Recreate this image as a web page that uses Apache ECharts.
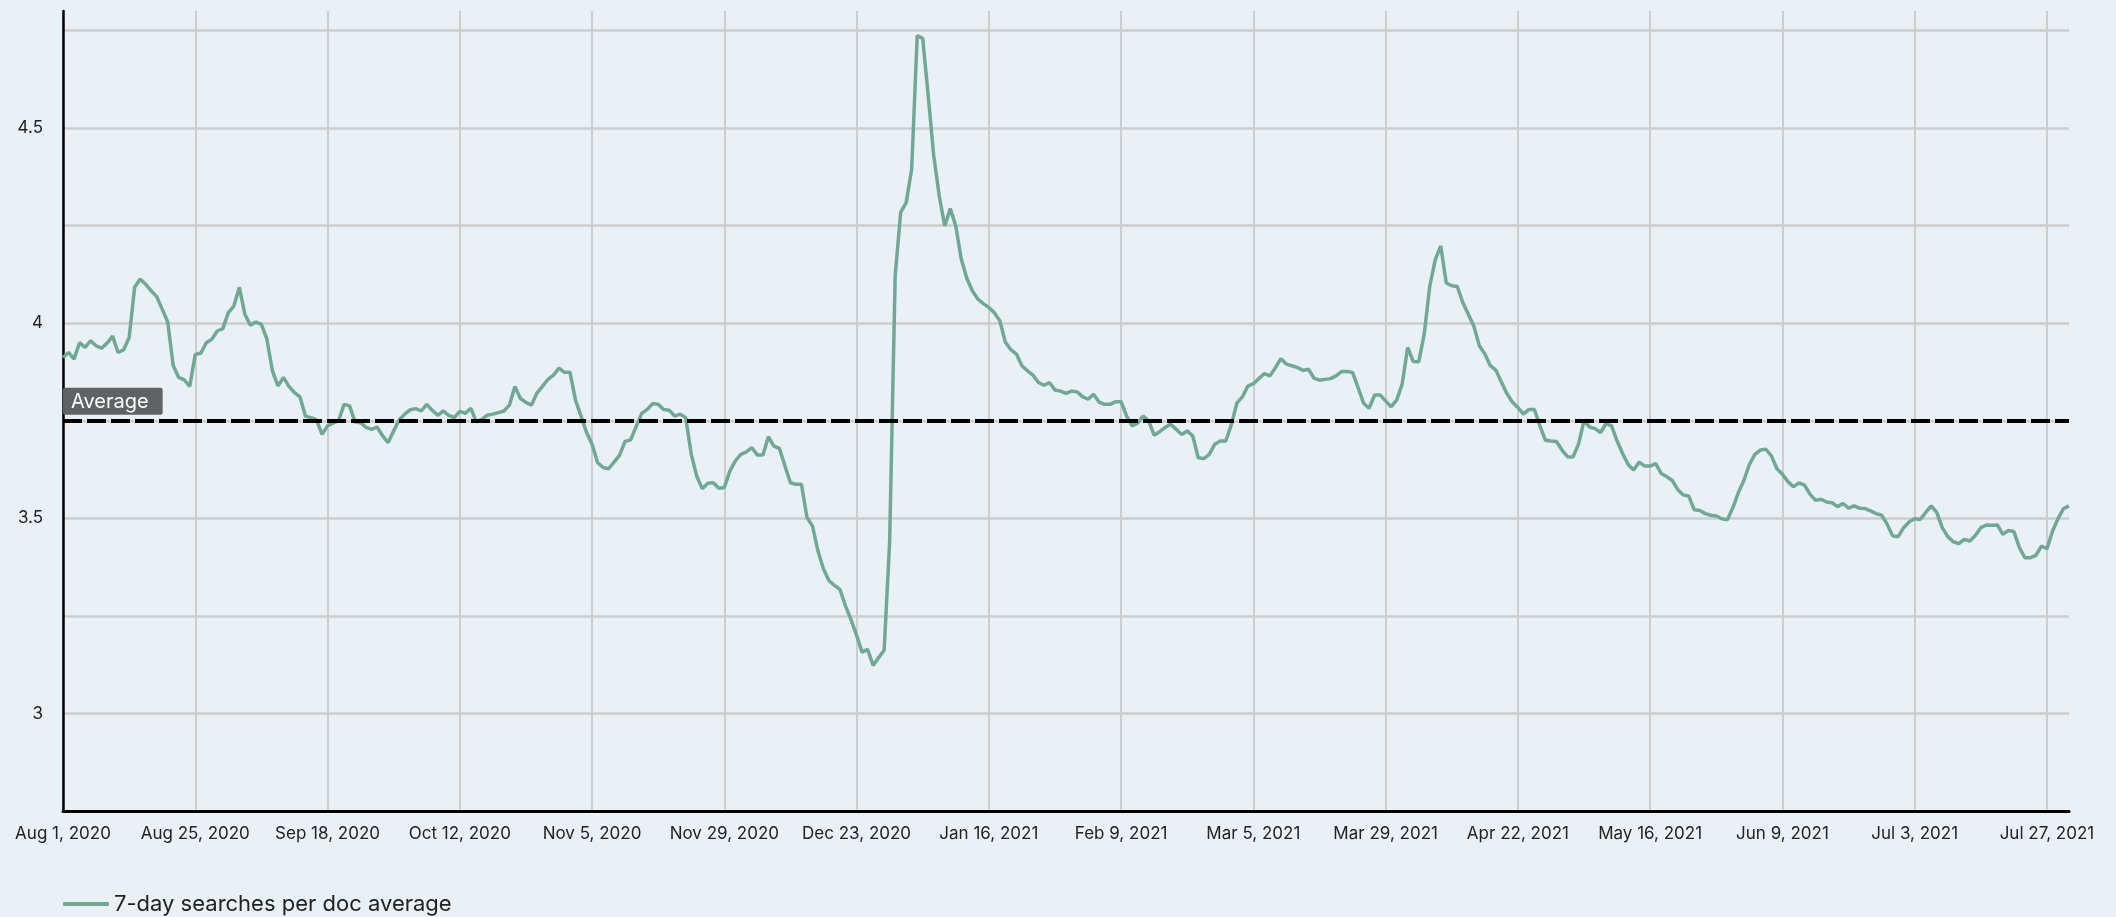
<!DOCTYPE html>
<html>
<head>
<meta charset="utf-8">
<script src="https://cdn.jsdelivr.net/npm/echarts@6/dist/echarts.min.js"></script>
<style>
  html, body { margin: 0; padding: 0; background: #e9f1f7; }
  #chart { width: 2116px; height: 917px; }
</style>
</head>
<body>
<div id="chart"></div>
<script>
// one value per day, starting Aug 1, 2020
const startDate = Date.UTC(2020, 7, 1);
const seriesName = "7-day searches per doc average";
const averageValue = 3.75;
const averageLabel = "Average";
const monthNames = ["Jan", "Feb", "Mar", "Apr", "May", "Jun", "Jul", "Aug", "Sep", "Oct", "Nov", "Dec"];

const dailyValues = [
  // Aug 2020
  3.912, 3.925, 3.908, 3.95, 3.938, 3.955, 3.942, 3.936, 3.949, 3.967,
  3.925, 3.932, 3.963, 4.092, 4.113, 4.10, 4.083, 4.068, 4.036, 4.003,
  3.891, 3.861, 3.855, 3.838, 3.92, 3.923, 3.95, 3.959, 3.98, 3.986,
  4.027, 4.044, 4.092, 4.023, 3.995, 4.003, 3.997, 3.959, 3.878, 3.839,
  3.861, 3.838, 3.822, 3.811, 3.762, 3.758, 3.752, 3.715, 3.737, 3.744,
  3.75, 3.792, 3.788, 3.747, 3.745, 3.733, 3.728, 3.734, 3.711, 3.694,
  3.724, 3.752, 3.767, 3.778, 3.781, 3.775, 3.792, 3.777, 3.764, 3.775,
  3.764, 3.758, 3.774, 3.769, 3.782, 3.747, 3.754, 3.764, 3.767, 3.771,
  3.775, 3.79, 3.838, 3.807, 3.797, 3.79, 3.821, 3.838, 3.856, 3.867,
  3.885, 3.874, 3.874, 3.803, 3.762, 3.72, 3.69, 3.643, 3.63, 3.627,
  3.644, 3.662, 3.697, 3.701, 3.735, 3.769, 3.779, 3.794, 3.792, 3.779,
  3.777, 3.762, 3.767, 3.758, 3.664, 3.608, 3.576, 3.59, 3.591, 3.577,
  3.579, 3.621, 3.647, 3.664, 3.67, 3.681, 3.662, 3.662, 3.709, 3.685,
  3.679, 3.634, 3.591, 3.587, 3.587, 3.502, 3.48, 3.416, 3.37, 3.34,
  3.328, 3.317, 3.275, 3.24, 3.20, 3.157, 3.164, 3.123, 3.143, 3.162,
  3.44, 4.121, 4.284, 4.309, 4.395, 4.737, 4.73, 4.583, 4.429, 4.326,
  4.249, 4.294, 4.249, 4.164, 4.115, 4.083, 4.062, 4.05, 4.04, 4.027,
  4.006, 3.951, 3.932, 3.921, 3.891, 3.878, 3.867, 3.848, 3.841, 3.848,
  3.829, 3.826, 3.82, 3.826, 3.824, 3.812, 3.805, 3.818, 3.798, 3.792,
  3.792, 3.799, 3.799, 3.762, 3.737, 3.744, 3.762, 3.75, 3.713, 3.722,
  3.733, 3.741, 3.728, 3.715, 3.724, 3.711, 3.655, 3.653, 3.664, 3.69,
  3.698, 3.698, 3.74, 3.795, 3.811, 3.839, 3.845, 3.858, 3.871, 3.865,
  3.886, 3.909, 3.895, 3.891, 3.886, 3.879, 3.882, 3.859, 3.854, 3.856,
  3.858, 3.865, 3.876, 3.876, 3.874, 3.835, 3.795, 3.782, 3.816, 3.816,
  3.801, 3.786, 3.803, 3.844, 3.938, 3.902, 3.901, 3.972, 4.094, 4.162,
  4.198, 4.103, 4.096, 4.094, 4.053, 4.023, 3.993, 3.942, 3.921, 3.891,
  3.88, 3.849, 3.82, 3.798, 3.784, 3.767, 3.779, 3.779, 3.737, 3.70,
  3.698, 3.697, 3.675, 3.658, 3.657, 3.69, 3.75, 3.734, 3.73, 3.72,
  3.743, 3.737, 3.698, 3.666, 3.638, 3.624, 3.644, 3.634, 3.634, 3.64,
  3.615, 3.607, 3.597, 3.574, 3.56, 3.557, 3.522, 3.52, 3.512, 3.508,
  3.506, 3.499, 3.496, 3.527, 3.566, 3.597, 3.638, 3.664, 3.675, 3.677,
  3.66, 3.627, 3.613, 3.594, 3.581, 3.591, 3.585, 3.562, 3.546, 3.549,
  3.542, 3.54, 3.53, 3.538, 3.526, 3.532, 3.526, 3.525, 3.519, 3.512,
  3.508, 3.485, 3.455, 3.453, 3.476, 3.491, 3.499, 3.497, 3.515, 3.532,
  3.515, 3.476, 3.453, 3.44, 3.435, 3.446, 3.442, 3.456, 3.476, 3.483,
  3.482, 3.483, 3.459, 3.469, 3.466, 3.425, 3.399, 3.399, 3.405, 3.429,
  3.422, 3.467, 3.499, 3.525, 3.532,
];

// x tick labels every 24 days from Aug 1
const tickStepDays = 24;

function dayLabel(day) {
  let d = new Date(startDate + day * 86400000);
  return monthNames[d.getUTCMonth()] + " " + d.getUTCDate() + ", " + d.getUTCFullYear();
}

const fontFamily = "Inter, 'Noto Sans', sans-serif";

let options = {
  backgroundColor: "#e9f1f7",
  textStyle: { fontFamily },
  animation: false,
  grid: {
    left: 63,
    right: 47,
    top: 11,
    bottom: 106,
    containLabel: false,
    outerBoundsMode: "none",
  },
  xAxis: {
    type: "value",
    min: 0,
    max: dailyValues.length - 1,
    interval: tickStepDays,
    axisLine: { show: true, onZero: false, lineStyle: { color: "#000", width: 3 } },
    axisTick: { show: false },
    axisLabel: {
      color: "#222",
      fontSize: 17,
      margin: 14,
      showMaxLabel: false,
      formatter: (value) => (value % tickStepDays === 0 ? dayLabel(value) : ""),
    },
    splitLine: {
      show: true,
      showMaxLine: false,
      lineStyle: { color: "#cdcdcd", width: 2 },
    },
  },
  yAxis: {
    type: "value",
    min: 2.75,
    max: 4.8,
    interval: 0.25,
    axisLine: { show: true, lineStyle: { color: "#000", width: 2.5 } },
    axisTick: { show: false },
    axisLabel: {
      color: "#222",
      fontSize: 17,
      margin: 20,
      showMaxLabel: false,
      formatter: (value) => {
        let twice = value * 2;
        return Math.abs(twice - Math.round(twice)) < 1e-6 ? String(value) : "";
      },
    },
    splitLine: {
      show: true,
      showMaxLine: false,
      lineStyle: { color: "#cdcdcd", width: 2.5 },
    },
  },
  legend: {
    show: true,
    left: 58,
    top: 888,
    icon: "rect",
    itemWidth: 46,
    itemHeight: 4,
    itemGap: 20,
    textStyle: { color: "#222", fontSize: 22, fontFamily },
    data: [seriesName],
  },
  series: [
    {
      name: seriesName,
      type: "line",
      symbol: "none",
      showSymbol: false,
      color: "#70a895",
      lineStyle: { color: "#70a895", width: 3.5 },
      data: dailyValues.map((v, i) => [i, v]),
      markLine: {
        silent: true,
        symbol: "none",
        lineStyle: { color: "#000", width: 4, type: [19, 5] },
        label: {
          show: true,
          position: "insideStartTop",
          distance: [0, 6],
          formatter: averageLabel,
          color: "#fff",
          fontSize: 20,
          fontFamily,
          backgroundColor: "#5f6366",
          borderRadius: 2,
          padding: [4, 14, 3, 8],
        },
        data: [{ yAxis: averageValue }],
      },
    },
  ],
};

let chart = echarts.init(document.getElementById("chart"), null, { renderer: "canvas" });
chart.setOption(options);
window.addEventListener("resize", function () {
  chart.resize();
});
</script>
</body>
</html>
